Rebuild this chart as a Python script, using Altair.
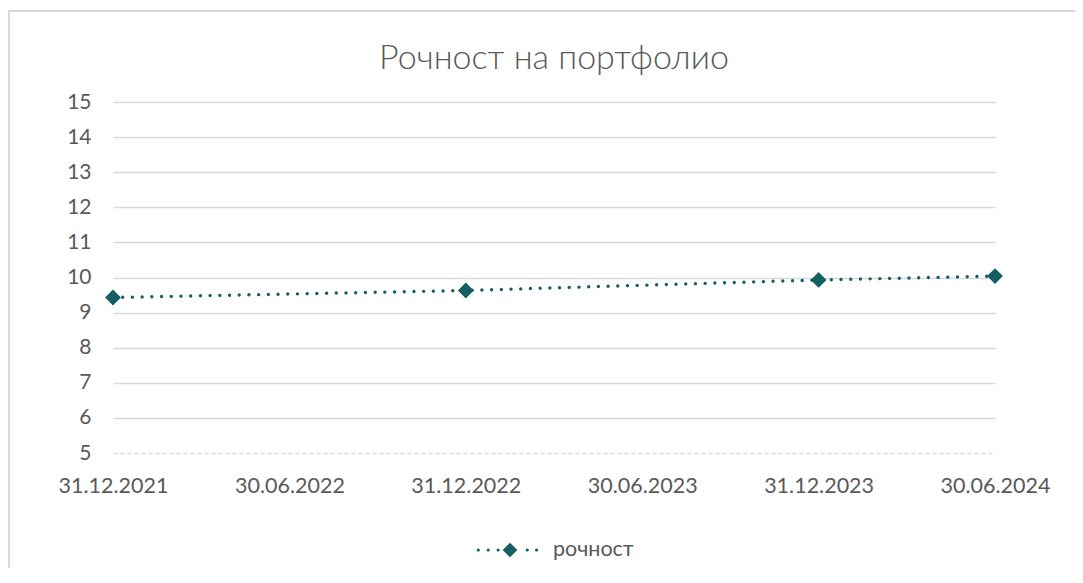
import altair as alt
import pandas as pd

# ---- data ----
categories = ["31.12.2021", "30.06.2022", "31.12.2022", "30.06.2023", "31.12.2023", "30.06.2024"]
point_dates = ["31.12.2021", "31.12.2022", "31.12.2023", "30.06.2024"]
values = [9.43, 9.63, 9.93, 10.04]
series_name = "рочност"
y_ticks = list(range(5, 16))
title_text = "Рочност на портфолио"

df = pd.DataFrame({"date": point_dates, "value": values, "series": [series_name] * len(values)})

COLOR = "#155E63"
TEXT = "#595959"
GRID = "#D9D9D9"
FONT = "Lato"

PAD_L, PAD_T, PAD_R, PAD_B = 105, 94, 80, 115
W, H = 882, 351

# legend symbol: dotted line with a diamond in the middle (custom path, unit coords)
def dot(cx, r=0.05):
    return f"M{cx - r},0 a{r},{r} 0 1,0 {2 * r},0 a{r},{r} 0 1,0 {-2 * r},0 Z "

legend_path = (
    dot(-0.99) + dot(-0.68) + dot(-0.37)
    + "M-0.23,0 L0,-0.23 L0.23,0 L0,0.23 Z "
    + dot(0.54) + dot(0.83)
)

x_enc = alt.X(
    "date:N",
    sort=categories,
    scale=alt.Scale(domain=categories, type="point", padding=0),
    axis=alt.Axis(
        title=None, labelAngle=0, ticks=False, domain=False, grid=False,
        labelFontSize=21.5, labelColor=TEXT, labelFont=FONT, labelPadding=22,
    ),
)
y_enc = alt.Y(
    "value:Q",
    scale=alt.Scale(domain=[5, 15], nice=False, zero=False),
    axis=alt.Axis(
        title=None, values=y_ticks, ticks=False, domain=False,
        labelFontSize=21, labelColor=TEXT, labelFont=FONT, labelPadding=22,
        gridColor=GRID, gridWidth=1.3,
        gridDash=alt.condition("datum.value === 5", alt.value([4, 3]), alt.value([1, 0])),
    ),
)

border = alt.Chart(pd.DataFrame({"a": [0]})).mark_rect(
    fill="transparent", stroke=GRID, strokeWidth=2, clip=False
).encode(
    x=alt.value(-PAD_L + 1), x2=alt.value(W + PAD_R + 20),
    y=alt.value(-PAD_T + 3), y2=alt.value(H + PAD_B + 20),
)

line = alt.Chart(df).mark_line(
    color=COLOR, strokeWidth=3.4, strokeDash=[0.01, 9.7], strokeCap="round"
).encode(x=x_enc, y=y_enc)

points = alt.Chart(df).mark_point(
    shape="diamond", filled=True, size=250, opacity=1, strokeWidth=0
).encode(
    x=x_enc, y=y_enc,
    color=alt.Color(
        "series:N",
        scale=alt.Scale(domain=[series_name], range=[COLOR]),
        legend=alt.Legend(
            title=None, orient="none", legendX=365, legendY=416,
            symbolType=legend_path, symbolSize=64 * 64, symbolStrokeWidth=0,
            labelFontSize=21.5, labelColor=TEXT, labelFont=FONT, labelOffset=11,
            padding=0,
        ),
    ),
)

chart = alt.layer(border, line, points).properties(
    width=W, height=H,
    title=alt.TitleParams(
        title_text, fontSize=34, font=FONT, fontWeight=300, color=TEXT,
        anchor="middle", offset=0, dy=66,
    ),
    autosize=alt.AutoSizeParams(type="none"),
    padding={"left": PAD_L, "top": PAD_T, "right": PAD_R, "bottom": PAD_B},
).configure(background="white").configure_view(strokeWidth=0, stroke="transparent")

chart.save("out.html", embed_options={"renderer": "svg", "actions": False})
